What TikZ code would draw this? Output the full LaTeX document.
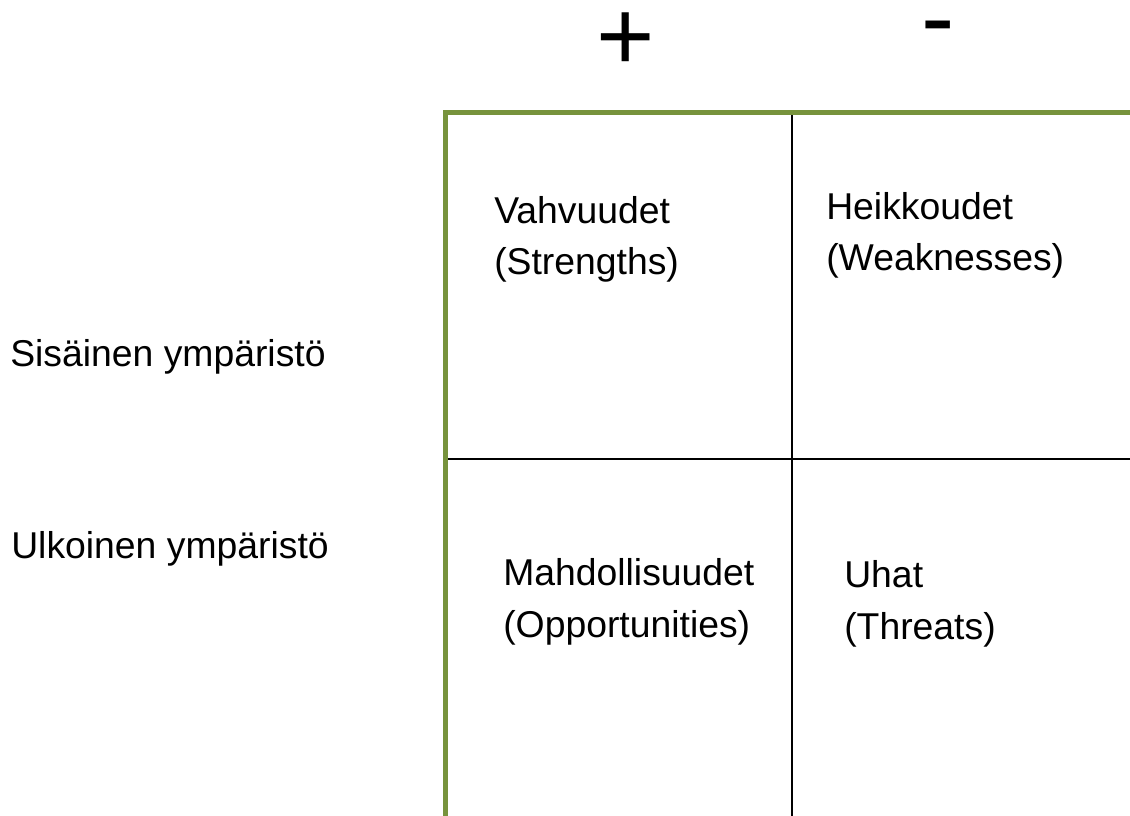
\documentclass[tikz,border=0pt]{standalone}
\usepackage{fontspec}
\setmainfont{Liberation Sans}
\definecolor{olive}{HTML}{77933C}
\begin{document}
\begin{tikzpicture}[x=0.75pt,y=-0.75pt,
  lbl/.style={anchor=base west,inner sep=0pt,font=\fontsize{28}{38.5}\selectfont,align=left},
  sign/.style={anchor=base west,inner sep=0pt,font=\fontsize{75}{80}\selectfont},
  frame/.style={draw=olive,line width=3.75pt},
  grid/.style={draw=black,line width=1.3pt}]
\useasboundingbox (0,0) rectangle (1130,816);
% coordinates
\coordinate (tl) at (445,112.5);
\coordinate (tr) at (1140,112.5);
\coordinate (bl) at (445,818);
\coordinate (br) at (1140,818);
\coordinate (vtop) at (792,114);
\coordinate (vbot) at (792,820);
\coordinate (hl) at (447,459);
\coordinate (hr) at (1140,459);
% grid lines
\draw[grid] (vtop) -- (vbot);
\draw[grid] (hl) -- (hr);
% frame
\draw[frame] (tr) -- (tl) -- (bl) -- (br);
% signs
\node[sign] (plus) at (596,71) {+};
\node[sign] (minus) at (921.5,52) {-};
% row labels
\node[lbl] (sis) at (10,366) {Sisäinen ympäristö};
\node[lbl] (ulk) at (11,558) {Ulkoinen ympäristö};
% quadrants (base = baseline of the last line)
\node[lbl] (s) at (494,275) {Vahvuudet\\(Strengths)};
\node[lbl] (w) at (826,271) {Heikkoudet\\(Weaknesses)};
\node[lbl] (o) at (503,637) {Mahdollisuudet\\(Opportunities)};
\node[lbl] (t) at (844,639) {Uhat\\(Threats)};
\end{tikzpicture}
\end{document}
